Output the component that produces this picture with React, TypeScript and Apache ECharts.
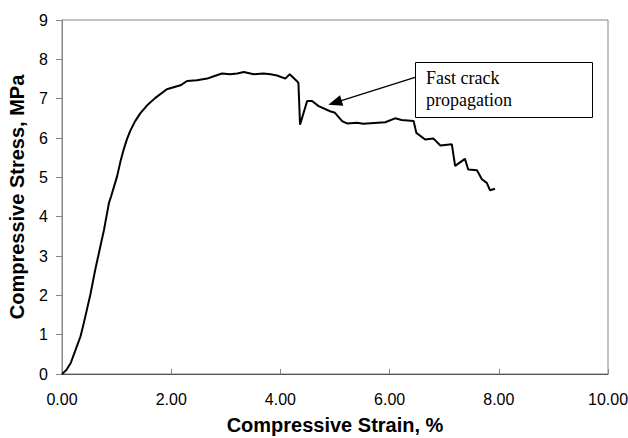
import React, { useEffect, useRef } from "react";
import * as echarts from "echarts";

// Compressive stress–strain response of the specimen
const strain = [
  0, 0.08, 0.16, 0.25, 0.34, 0.4, 0.52, 0.61, 0.67, 0.77, 0.86, 0.9, 1.01, 1.07, 1.13,
  1.19, 1.25, 1.34, 1.44, 1.56, 1.71, 1.92, 2.17, 2.29, 2.47, 2.66, 2.78, 2.93, 3.08,
  3.21, 3.33, 3.51, 3.69, 3.82, 3.94, 4.09, 4.17, 4.3, 4.33, 4.36, 4.49, 4.58, 4.7, 4.91,
  5.0, 5.13, 5.22, 5.4, 5.52, 5.92, 6.1, 6.22, 6.44, 6.49, 6.65, 6.8, 6.93, 7.14, 7.2,
  7.38, 7.44, 7.6, 7.69, 7.78, 7.84, 7.93,
];
const stress = [
  0, 0.1, 0.28, 0.62, 0.96, 1.3, 2.02, 2.66, 3.04, 3.67, 4.35, 4.52, 5.03, 5.4, 5.71,
  5.97, 6.18, 6.43, 6.64, 6.83, 7.02, 7.24, 7.34, 7.45, 7.47, 7.51, 7.57, 7.64, 7.62,
  7.64, 7.68, 7.62, 7.64, 7.62, 7.59, 7.51, 7.62, 7.45, 7.4, 6.34, 6.94, 6.94, 6.81,
  6.68, 6.64, 6.43, 6.37, 6.39, 6.36, 6.4, 6.5, 6.46, 6.43, 6.13, 5.96, 5.99, 5.81, 5.84,
  5.29, 5.47, 5.2, 5.18, 4.95, 4.86, 4.67, 4.71,
];

const xTicks = [0, 2, 4, 6, 8, 10];
const yTicks = [0, 1, 2, 3, 4, 5, 6, 7, 8, 9];

// Arrow annotation endpoints in data units: [strain, stress]
const arrowFrom = [6.48, 7.55];
const arrowTo = [5.0, 6.9];
const noteLines = ["Fast crack", "propagation"];

export default function App() {
  const ref = useRef<HTMLDivElement>(null);

  useEffect(() => {
    if (!ref.current) return;
    const chart = echarts.init(ref.current, null, { renderer: "svg" });
    const sans = "Liberation Sans";
    const axisColor = "#868686";

    chart.setOption({
      animation: false,
      backgroundColor: "#ffffff",
      grid: {
        left: 62,
        right: 20,
        top: 20,
        bottom: 64,
        containLabel: false,
        outerBoundsMode: "none",
        show: true,
        borderColor: axisColor,
        borderWidth: 1,
      },
      xAxis: {
        type: "value",
        min: xTicks[0],
        max: xTicks[xTicks.length - 1],
        interval: 2,
        name: "Compressive Strain, %",
        nameLocation: "middle",
        nameGap: 41,
        nameTextStyle: { fontFamily: sans, fontSize: 20, fontWeight: "bold", color: "#000" },
        axisLine: { lineStyle: { color: "#555", width: 1 } },
        axisTick: { inside: true, length: 5, lineStyle: { color: axisColor } },
        axisLabel: {
          fontFamily: sans,
          fontSize: 16,
          color: "#000",
          margin: 17,
          formatter: (v: number) => v.toFixed(2),
        },
        splitLine: { show: false },
      },
      yAxis: {
        type: "value",
        min: yTicks[0],
        max: yTicks[yTicks.length - 1],
        interval: 1,
        name: "Compressive Stress, MPa",
        nameLocation: "middle",
        nameGap: 35,
        nameTextStyle: { fontFamily: sans, fontSize: 20, fontWeight: "bold", color: "#000" },
        axisLine: { show: true, lineStyle: { color: axisColor, width: 1 } },
        axisTick: { show: true, inside: false, length: 6, lineStyle: { color: axisColor } },
        axisLabel: { fontFamily: sans, fontSize: 16, color: "#000", margin: 14 },
        splitLine: { show: false },
      },
      series: [
        {
          type: "line",
          data: strain.map((s, i) => [s, stress[i]]),
          showSymbol: false,
          lineStyle: { color: "#000", width: 2 },
          silent: true,
          markLine: {
            silent: true,
            symbol: ["none", "triangle"],
            symbolSize: [11, 14],
            label: { show: false },
            lineStyle: { color: "#000", width: 1.3, type: "solid" },
            data: [[{ coord: arrowFrom }, { coord: arrowTo }]],
          },
        },
      ],
      graphic: [
        {
          type: "rect",
          left: 415,
          top: 62,
          shape: { width: 177, height: 55 },
          style: { fill: "#fff", stroke: "#000", lineWidth: 1 },
          z: 10,
        },
        {
          type: "text",
          left: 426,
          top: 67,
          style: {
            text: noteLines.join("\n"),
            font: '18px "Liberation Serif"',
            fill: "#000",
            lineHeight: 22,
          },
          z: 11,
        },
      ],
    });

    return () => chart.dispose();
  }, []);

  return <div ref={ref} style={{ width: 628, height: 438, position: "absolute", left: 0, top: 0 }} />;
}
